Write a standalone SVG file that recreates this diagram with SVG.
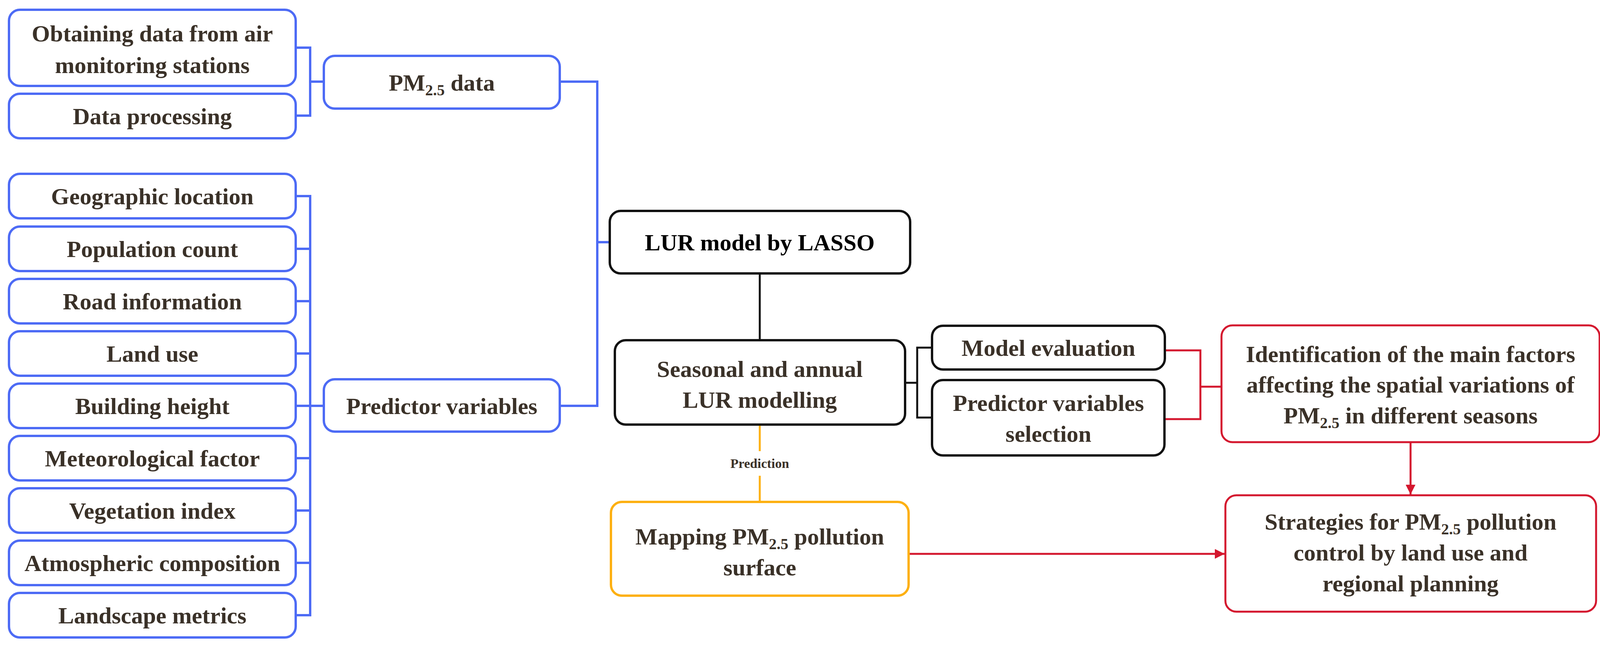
<svg xmlns="http://www.w3.org/2000/svg" width="4117" height="1659" viewBox="0 0 4117 1659">
<style>
text{font-family:"Liberation Serif","Times New Roman",serif;font-weight:bold;font-size:60px;fill:#3a3128;text-anchor:middle}
.b rect{fill:#fff;stroke:#4d6bf5;stroke-width:6}
.k rect{fill:#fff;stroke:#111;stroke-width:6}
.r rect{fill:#fff;stroke:#d4172e;stroke-width:5}
.o rect{fill:#fff;stroke:#fdb012;stroke-width:6}
.sub{font-size:40px}
.cb{fill:none;stroke:#4d6bf5;stroke-width:6}
.ck{fill:none;stroke:#111;stroke-width:5}
.cr{fill:none;stroke:#d4172e;stroke-width:5}
.co{fill:none;stroke:#fdb012;stroke-width:5}
</style>
<defs>
<marker id="ar" viewBox="0 0 10 10" refX="10" refY="5" markerWidth="5" markerHeight="5" orient="auto" markerUnits="strokeWidth"><path d="M0,0L10,5L0,10z" fill="#d4172e"/></marker>
</defs>
<rect width="4117" height="1659" fill="#fff"/>
<g id="connectors">
<path class="cb" d="M757,122H794V296H757M794,209H829"/>
<path class="cb" d="M1433,209H1529V1039H1433M1529,620H1561"/>
<path class="cb" d="M757,502H794V1575H757M757,637H794M757,771H794M757,905H794M757,1039H829M757,1173H794M757,1307H794M757,1441H794"/>
<path class="ck" d="M1945,700V871M2317,980H2348M2386,890H2348V1069H2386"/>
<path class="cr" d="M2982,897H3073V1073H2981M3073,990H3127"/>
<path class="cr" d="M3611,1132V1266" marker-end="url(#ar)"/>
<path class="cr" d="M2326,1418H3135" marker-end="url(#ar)"/>
<path class="co" d="M1945,1087V1155M1945,1218V1285"/>
<text x="1945" y="1198" style="font-size:34px">Prediction</text>
</g>
<g id="n-obtain" class="b"><rect x="23" y="25" width="734" height="195" rx="28"/><text x="390" y="106">Obtaining data from air</text><text x="390" y="187">monitoring stations</text></g>
<g id="n-proc" class="b"><rect x="23" y="240" width="734" height="114" rx="28"/><text x="390" y="318">Data processing</text></g>
<g id="n-pm" class="b"><rect x="829" y="143" width="604" height="135" rx="28"/><text x="1131" y="232">PM<tspan class="sub" dy="12">2.5</tspan><tspan dy="-12"> data</tspan></text></g>
<g id="n-pred" class="b"><rect x="829" y="971" width="604" height="134" rx="28"/><text x="1131" y="1060">Predictor variables</text></g>
<g id="n-geo" class="b"><rect x="23" y="445" width="734" height="114" rx="28"/><text x="390" y="523">Geographic location</text></g>
<g id="n-pop" class="b"><rect x="23" y="580" width="734" height="114" rx="28"/><text x="390" y="658">Population count</text></g>
<g id="n-road" class="b"><rect x="23" y="714" width="734" height="114" rx="28"/><text x="390" y="792">Road information</text></g>
<g id="n-land" class="b"><rect x="23" y="848" width="734" height="114" rx="28"/><text x="390" y="926">Land use</text></g>
<g id="n-build" class="b"><rect x="23" y="982" width="734" height="114" rx="28"/><text x="390" y="1060">Building height</text></g>
<g id="n-met" class="b"><rect x="23" y="1116" width="734" height="114" rx="28"/><text x="390" y="1194">Meteorological factor</text></g>
<g id="n-veg" class="b"><rect x="23" y="1250" width="734" height="114" rx="28"/><text x="390" y="1328">Vegetation index</text></g>
<g id="n-atm" class="b"><rect x="23" y="1384" width="734" height="114" rx="28"/><text x="390" y="1462">Atmospheric composition</text></g>
<g id="n-lsm" class="b"><rect x="23" y="1518" width="734" height="114" rx="28"/><text x="390" y="1596">Landscape metrics</text></g>
<g id="n-lur" class="k"><rect x="1561" y="540" width="769" height="160" rx="28"/><text x="1945" y="641" style="fill:#000">LUR model by LASSO</text></g>
<g id="n-season" class="k"><rect x="1574" y="871" width="743" height="216" rx="28"/><text x="1945" y="965">Seasonal and annual</text><text x="1945" y="1044">LUR modelling</text></g>
<g id="n-eval" class="k"><rect x="2386" y="834" width="596" height="112" rx="28"/><text x="2684" y="911">Model evaluation</text></g>
<g id="n-sel" class="k"><rect x="2386" y="973" width="595" height="193" rx="28"/><text x="2684" y="1052">Predictor variables</text><text x="2684" y="1131">selection</text></g>
<g id="n-ident" class="r"><rect x="3127" y="833" width="968" height="299" rx="28"/><text x="3611" y="927">Identification of the main factors</text><text x="3611" y="1005">affecting the spatial variations of</text><text x="3611" y="1084">PM<tspan class="sub" dy="12">2.5</tspan><tspan dy="-12"> in different seasons</tspan></text></g>
<g id="n-map" class="o"><rect x="1564" y="1285" width="762" height="240" rx="28"/><text x="1945" y="1394">Mapping PM<tspan class="sub" dy="12">2.5</tspan><tspan dy="-12"> pollution</tspan></text><text x="1945" y="1473">surface</text></g>
<g id="n-strat" class="r"><rect x="3137" y="1268" width="949" height="298" rx="28"/><text x="3611" y="1356">Strategies for PM<tspan class="sub" dy="12">2.5</tspan><tspan dy="-12"> pollution</tspan></text><text x="3611" y="1435">control by land use and</text><text x="3611" y="1514">regional planning</text></g>
</svg>
